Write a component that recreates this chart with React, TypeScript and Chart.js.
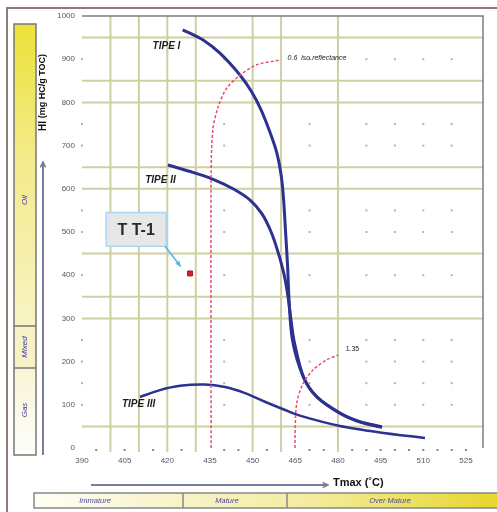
import React, { useEffect, useRef } from "react";
import { Chart, registerables } from "chart.js";

Chart.register(...registerables);

// ---- axis ticks ----
const xTickValues = [390, 405, 420, 435, 450, 465, 480, 495, 510, 525];
const yTickValues = [0, 100, 200, 300, 400, 500, 600, 700, 800, 900, 1000];

// ---- grid (irregular, as in the scanned figure) ----
const xGridValues = [400, 410, 420, 430, 450, 460, 480];
const yGridValues = [50, 300, 350, 450, 600, 650, 800, 850, 950];
const dotXValues = [390, 440, 470, 490, 500, 510, 520];
const dotYValues = [100, 150, 200, 250, 400, 500, 550, 700, 750, 900];
const bottomDotValues = [395, 405, 415, 425, 440, 445, 455, 470, 475, 485, 490, 495, 500, 505, 510, 515, 520, 525];

// ---- kerogen type curves (Tmax °C, HI) ----
const tipeI_tmax = [425.4, 432.7, 438.5, 445.6, 449.6, 453.0, 456.2, 458.5, 460.1, 460.9, 461.6, 462.3, 462.8, 464.0, 467.8, 472.5, 480.7, 487.7, 495.4];
const tipeI_hi = [968, 944, 914, 863, 825, 782, 729, 683, 628, 574, 498, 420, 343, 250, 165, 119, 81, 61, 49];

const tipeII_tmax = [420.2, 428.0, 436.1, 443.1, 449.1, 453.3, 456.5, 458.9, 461.0, 462.4, 463.5, 464.5, 467.9, 472.6, 480.8, 487.8, 495.5];
const tipeII_hi = [655, 640, 622, 600, 574, 542, 500, 454, 403, 352, 296, 250, 164, 118, 80, 60, 48];

const tipeIII_tmax = [410.4, 417.4, 424.5, 433.2, 440.3, 447.3, 454.3, 461.4, 466.6, 480.7, 494.8, 510.6];
const tipeIII_hi = [118, 134, 144, 147, 141, 127, 107, 88, 75, 51, 36, 23];

// ---- iso-reflectance lines ----
const ro06_tmax = [435.4, 435.4, 436.0, 437.9, 440.9, 445.6, 451.4, 459.6];
const ro06_hi = [0, 628, 736, 790, 833, 863, 887, 898];

const ro135_tmax = [464.9, 464.9, 465.5, 467.8, 471.3, 476.0, 480.1];
const ro135_hi = [0, 26, 104, 150, 181, 204, 215];

// ---- sample ----
const sampleName = "T T-1";
const sample_tmax = [428.0];
const sample_hi = [404];

const zip = (xs: number[], ys: number[]) => xs.map((x, i) => ({ x, y: ys[i] }));

const FONT = "'Liberation Sans', Arial, sans-serif";

function arrowHead(ctx: CanvasRenderingContext2D, x: number, y: number, ang: number, len: number, fill: boolean) {
  ctx.beginPath();
  ctx.moveTo(x - len * Math.cos(ang - 0.45), y - len * Math.sin(ang - 0.45));
  ctx.lineTo(x, y);
  ctx.lineTo(x - len * Math.cos(ang + 0.45), y - len * Math.sin(ang + 0.45));
  if (fill) {
    ctx.closePath();
    ctx.fill();
  } else ctx.stroke();
}

const decorPlugin = {
  id: "decor",
  beforeDatasetsDraw(chart: any) {
    const { ctx, chartArea: a, scales } = chart;
    const xs = scales.x, ys = scales.y;
    ctx.save();
    ctx.strokeStyle = "#cfcfa2";
    ctx.lineWidth = 2;
    xGridValues.forEach((v) => {
      const px = xs.getPixelForValue(v);
      ctx.beginPath();
      ctx.moveTo(px, a.top);
      ctx.lineTo(px, a.bottom + 4);
      ctx.stroke();
    });
    yGridValues.forEach((v) => {
      const py = ys.getPixelForValue(v);
      ctx.beginPath();
      ctx.moveTo(a.left, py);
      ctx.lineTo(a.right, py);
      ctx.stroke();
    });
    ctx.fillStyle = "#b9b98c";
    dotXValues.forEach((vx) => {
      dotYValues.forEach((vy) => {
        ctx.fillRect(xs.getPixelForValue(vx) - 1, ys.getPixelForValue(vy) - 1, 2, 2);
      });
    });
    ctx.fillStyle = "#8a8a78";
    bottomDotValues.forEach((vx) => {
      ctx.fillRect(xs.getPixelForValue(vx) - 1, a.bottom + 1, 2, 2);
    });
    ctx.strokeStyle = "#7c7c7c";
    ctx.lineWidth = 1.5;
    ctx.beginPath();
    ctx.moveTo(a.left, a.top);
    ctx.lineTo(a.right, a.top);
    ctx.lineTo(a.right, a.bottom);
    ctx.stroke();
    ctx.restore();
  },
  afterDatasetsDraw(chart: any) {
    const { ctx, scales } = chart;
    const xs = scales.x, ys = scales.y;
    const P = (x: number, y: number) => [xs.getPixelForValue(x), ys.getPixelForValue(y)];
    ctx.save();
    ctx.fillStyle = "#1e1e1e";
    ctx.font = `italic bold 10px ${FONT}`;
    ctx.textAlign = "center";
    ctx.textBaseline = "middle";
    let p = P(419.7, 930);
    ctx.fillText("TIPE I", p[0], p[1]);
    p = P(417.6, 620);
    ctx.fillText("TIPE II", p[0], p[1]);
    p = P(409.9, 102);
    ctx.fillText("TIPE III", p[0], p[1]);
    ctx.font = `italic 7px ${FONT}`;
    ctx.textAlign = "left";
    ctx.fillStyle = "#222";
    p = P(462.3, 903);
    ctx.fillText("0.6  iso.reflectance", p[0], p[1]);
    ctx.font = `7px ${FONT}`;
    p = P(482.7, 229);
    ctx.fillText("1.35", p[0], p[1]);
    const tl = P(398.5, 545);
    const br = P(419.6, 467);
    ctx.fillStyle = "#e7e7e7";
    ctx.fillRect(tl[0], tl[1], br[0] - tl[0], br[1] - tl[1]);
    ctx.strokeStyle = "#a9d6f0";
    ctx.lineWidth = 1.5;
    ctx.strokeRect(tl[0], tl[1], br[0] - tl[0], br[1] - tl[1]);
    ctx.fillStyle = "#2a2a2a";
    ctx.font = `bold 16px ${FONT}`;
    ctx.textAlign = "center";
    ctx.fillText(sampleName, (tl[0] + br[0]) / 2, (tl[1] + br[1]) / 2 + 1);
    const s = P(419.2, 467);
    const e = P(424.7, 420);
    ctx.strokeStyle = "#4fb6ea";
    ctx.fillStyle = "#4fb6ea";
    ctx.lineWidth = 1.5;
    ctx.beginPath();
    ctx.moveTo(s[0], s[1]);
    ctx.lineTo(e[0], e[1]);
    ctx.stroke();
    arrowHead(ctx, e[0], e[1], Math.atan2(e[1] - s[1], e[0] - s[0]), 6, true);
    ctx.restore();
  },
  afterDraw(chart: any) {
    const ctx: CanvasRenderingContext2D = chart.ctx;
    ctx.save();
    ctx.strokeStyle = "#8d7d74";
    ctx.lineWidth = 2;
    ctx.beginPath();
    ctx.moveTo(7, 512);
    ctx.lineTo(7, 8);
    ctx.lineTo(497, 8);
    ctx.stroke();

    const bx = 14, bw = 22, top = 24, oilEnd = 326, mixEnd = 368, bottom = 455;
    let g = ctx.createLinearGradient(0, top, 0, oilEnd);
    g.addColorStop(0, "#ece23a");
    g.addColorStop(0.45, "#f3eb8a");
    g.addColorStop(1, "#f8f3c4");
    ctx.fillStyle = g;
    ctx.fillRect(bx, top, bw, oilEnd - top);
    ctx.fillStyle = "#f7f2c6";
    ctx.fillRect(bx, oilEnd, bw, mixEnd - oilEnd);
    g = ctx.createLinearGradient(0, mixEnd, 0, bottom);
    g.addColorStop(0, "#f8f5d6");
    g.addColorStop(1, "#fefefb");
    ctx.fillStyle = g;
    ctx.fillRect(bx, mixEnd, bw, bottom - mixEnd);
    ctx.strokeStyle = "#777";
    ctx.lineWidth = 1.5;
    ctx.strokeRect(bx, top, bw, bottom - top);
    ctx.beginPath();
    ctx.moveTo(bx, oilEnd);
    ctx.lineTo(bx + bw, oilEnd);
    ctx.moveTo(bx, mixEnd);
    ctx.lineTo(bx + bw, mixEnd);
    ctx.stroke();
    ctx.fillStyle = "#3c3ca2";
    ctx.font = `italic 8px ${FONT}`;
    ctx.textAlign = "center";
    ctx.textBaseline = "middle";
    const vtext = (t: string, x: number, y: number) => {
      ctx.save();
      ctx.translate(x, y);
      ctx.rotate(-Math.PI / 2);
      ctx.fillText(t, 0, 0);
      ctx.restore();
    };
    vtext("Oil", 25, 200);
    vtext("Mixed", 25, 347);
    vtext("Gas", 25, 410);

    ctx.strokeStyle = "#7a7a9c";
    ctx.lineWidth = 2;
    ctx.beginPath();
    ctx.moveTo(43, 455);
    ctx.lineTo(43, 162);
    ctx.stroke();
    ctx.lineWidth = 1.5;
    arrowHead(ctx, 43, 162, -Math.PI / 2, 6, false);

    ctx.save();
    ctx.translate(43, 131);
    ctx.rotate(-Math.PI / 2);
    ctx.textAlign = "left";
    ctx.fillStyle = "#111";
    ctx.font = `bold 10px ${FONT}`;
    ctx.fillText("HI", 0, 0);
    const w = ctx.measureText("HI ").width;
    ctx.font = `bold 9px ${FONT}`;
    ctx.fillText("(mg HC/g TOC)", w, 0);
    ctx.restore();

    ctx.strokeStyle = "#7a7a9c";
    ctx.lineWidth = 2;
    ctx.beginPath();
    ctx.moveTo(91, 485);
    ctx.lineTo(327, 485);
    ctx.stroke();
    ctx.lineWidth = 1.5;
    arrowHead(ctx, 328, 485, 0, 6, false);
    ctx.fillStyle = "#111";
    ctx.font = `bold 11px ${FONT}`;
    ctx.textAlign = "left";
    ctx.fillText("Tmax (˚C)", 333, 483);

    const y0 = 493, y1 = 508, x0 = 34, x1 = 497, d1 = 183, d2 = 287;
    g = ctx.createLinearGradient(x0, 0, x1, 0);
    g.addColorStop(0, "#fefef6");
    g.addColorStop(0.35, "#f7f2c2");
    g.addColorStop(0.6, "#f3ec9e");
    g.addColorStop(1, "#e6d62c");
    ctx.fillStyle = g;
    ctx.fillRect(x0, y0, x1 - x0, y1 - y0);
    ctx.strokeStyle = "#888";
    ctx.lineWidth = 1.5;
    ctx.strokeRect(x0, y0, x1 - x0 + 2, y1 - y0);
    ctx.beginPath();
    ctx.moveTo(d1, y0);
    ctx.lineTo(d1, y1);
    ctx.moveTo(d2, y0);
    ctx.lineTo(d2, y1);
    ctx.stroke();
    ctx.fillStyle = "#4a4aa6";
    ctx.font = `italic 7.5px ${FONT}`;
    ctx.textAlign = "center";
    ctx.fillText("Immature", 95, 500.5);
    ctx.fillText("Mature", 227, 500.5);
    ctx.fillText("Over Mature", 390, 500.5);
    ctx.restore();
  },
};

export default function App() {
  const ref = useRef<HTMLCanvasElement | null>(null);
  useEffect(() => {
    if (!ref.current) return;
    const curve = (label: string, xs: number[], ys: number[], color: string, width: number) => ({
      label,
      data: zip(xs, ys),
      showLine: true,
      borderColor: color,
      borderWidth: width,
      pointRadius: 0,
      tension: 0.3,
      fill: false,
    });
    const chart = new Chart(ref.current, {
      type: "scatter",
      data: {
        datasets: [
          { ...curve("0.6 iso.reflectance", ro06_tmax, ro06_hi, "#ee4a6c", 1.5), borderDash: [3, 2] } as any,
          { ...curve("1.35", ro135_tmax, ro135_hi, "#ee4a6c", 1.5), borderDash: [3, 2] } as any,
          curve("TIPE III", tipeIII_tmax, tipeIII_hi, "#2d3190", 2.5) as any,
          curve("TIPE II", tipeII_tmax, tipeII_hi, "#2d3190", 3) as any,
          curve("TIPE I", tipeI_tmax, tipeI_hi, "#2d3190", 3) as any,
          {
            label: sampleName,
            data: zip(sample_tmax, sample_hi),
            pointStyle: "rect",
            pointRadius: 3.5,
            backgroundColor: "#d42030",
            borderColor: "#a81420",
            borderWidth: 1,
          } as any,
        ],
      },
      options: {
        responsive: false,
        animation: false,
        layout: { padding: { left: 0, top: 16, right: 14, bottom: 0 } },
        plugins: {
          legend: { display: false },
          tooltip: { enabled: false },
        },
        scales: {
          x: {
            type: "linear",
            min: 390,
            max: 531,
            grid: { display: false, drawTicks: false },
            border: { display: false },
            ticks: {
              font: { family: FONT, size: 8 },
              color: "#535866",
              padding: 8,
              maxRotation: 0,
              autoSkip: false,
              callback: (v: any) => String(v),
            },
            afterBuildTicks: (s: any) => {
              s.ticks = xTickValues.map((v) => ({ value: v }));
            },
            afterFit: (s: any) => {
              s.height = 64;
            },
          },
          y: {
            type: "linear",
            min: 0,
            max: 1000,
            grid: { display: false, drawTicks: false },
            border: { display: false },
            ticks: {
              font: { family: FONT, size: 8 },
              color: "#535866",
              padding: 7,
              autoSkip: false,
              callback: (v: any) => String(v),
            },
            afterBuildTicks: (s: any) => {
              s.ticks = yTickValues.map((v) => ({ value: v }));
            },
            afterFit: (s: any) => {
              s.width = 82;
            },
          },
        },
      },
      plugins: [decorPlugin as any],
    });
    return () => chart.destroy();
  }, []);
  return (
    <div style={{ position: "absolute", left: 0, top: 0, width: 497, height: 512, background: "#fff" }}>
      <canvas ref={ref} width={497} height={512} style={{ display: "block" }} />
    </div>
  );
}
